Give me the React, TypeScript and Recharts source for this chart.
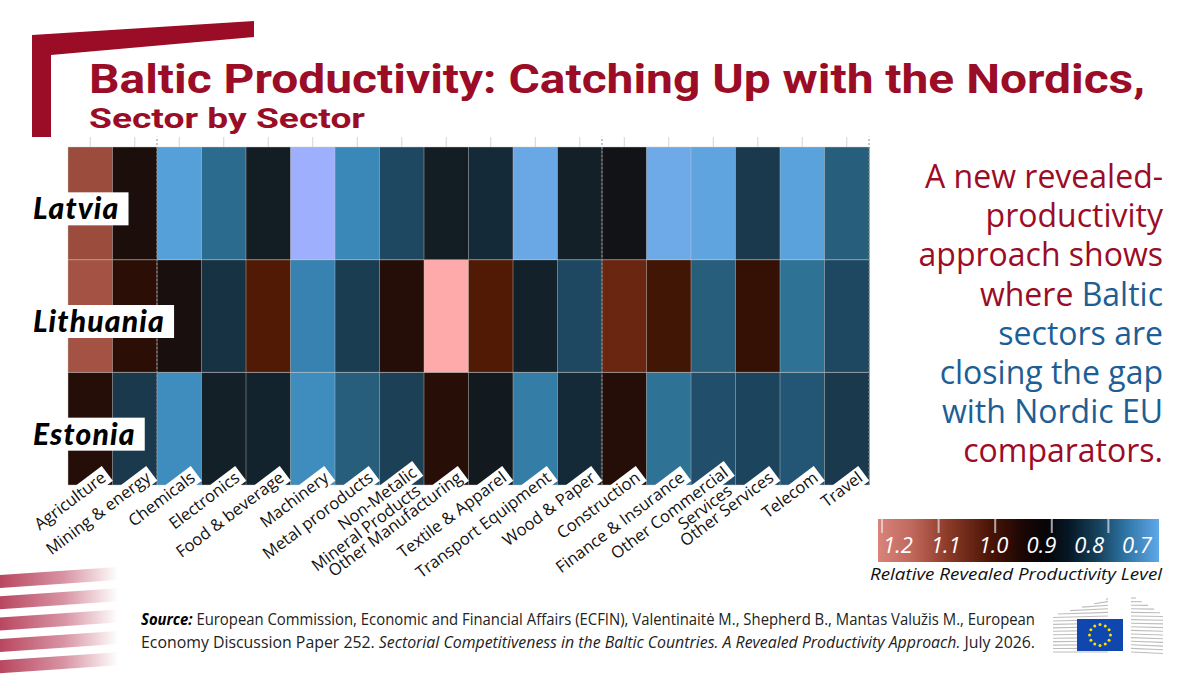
import React from "react";
import { BarChart, Bar, Cell, XAxis, YAxis, ReferenceLine } from "recharts";

// sectors in chart order (typos kept as in the source figure)
const sectors = [
  "Agriculture",
  "Mining & energy",
  "Chemicals",
  "Electronics",
  "Food & beverage",
  "Machinery",
  "Metal proroducts",
  "Non-Metalic\nMineral Products",
  "Other Manufacturing",
  "Textile & Apparel",
  "Transport Equipment",
  "Wood & Paper",
  "Construction",
  "Finance & Insurance",
  "Other Commercial\nServices",
  "Other Services",
  "Telecom",
  "Travel",
];

const countries = ["Latvia", "Lithuania", "Estonia"];

// relative revealed productivity level
const latvia = [1.2, 0.99, 0.7, 0.8, 0.92, 0.56, 0.75, 0.85, 0.92, 0.89, 0.66, 0.91, 0.95, 0.65, 0.68, 0.87, 0.69, 0.82];
const lithuania = [1.21, 1.04, 0.98, 0.88, 1.1, 0.76, 0.865, 1.02, 1.35, 1.1, 0.905, 0.85, 1.15, 1.08, 0.82, 1.06, 0.79, 0.85];
const estonia = [1.02, 0.87, 0.74, 0.91, 0.9, 0.74, 0.82, 0.86, 1.03, 0.93, 0.77, 0.89, 1.02, 0.79, 0.84, 0.855, 0.83, 0.87];

// first sector of each block (primary / manufacturing / services); last entry = right edge
const groupBreaks = [2, 12, 18];

const legendTicks = ["1.2", "1.1", "1.0", "0.9", "0.8", "0.7"];

const values: Record<string, number[]> = { Latvia: latvia, Lithuania: lithuania, Estonia: estonia };

const rows = sectors.map((s) => ({ sector: s, Latvia: 1, Lithuania: 1, Estonia: 1 }));

const RED = "#9b0c27";
const BLUE = "#1d5e95";

// diverging scale: light blue (low) -> black (1) -> pink (high)
const cmap: [number, string][] = [
  [0.55, "#a3b1ff"],
  [0.65, "#6eaae8"],
  [0.7, "#55a0d8"],
  [0.75, "#3a88b8"],
  [0.8, "#2b6c8e"],
  [0.85, "#1e4862"],
  [0.9, "#13232d"],
  [0.95, "#121316"],
  [1.0, "#1d0d08"],
  [1.05, "#2e0f05"],
  [1.1, "#501a05"],
  [1.15, "#6a2610"],
  [1.2, "#9c4c3c"],
  [1.35, "#ffaaaa"],
];

function hex(c: string) {
  return [1, 3, 5].map((i) => parseInt(c.slice(i, i + 2), 16));
}

function colorFor(v: number) {
  if (v <= cmap[0][0]) return cmap[0][1];
  for (let i = 1; i < cmap.length; i++) {
    if (v <= cmap[i][0]) {
      const [v0, c0] = cmap[i - 1];
      const [v1, c1] = cmap[i];
      const t = (v - v0) / (v1 - v0);
      const a = hex(c0);
      const b = hex(c1);
      const m = a.map((x, k) => Math.round(x + (b[k] - x) * t));
      return `rgb(${m[0]},${m[1]},${m[2]})`;
    }
  }
  return cmap[cmap.length - 1][1];
}

let ctx: CanvasRenderingContext2D | null = null;
function textWidth(s: string, font: string) {
  if (!ctx) ctx = document.createElement("canvas").getContext("2d");
  if (!ctx) return s.length * 10;
  ctx.font = font;
  return ctx.measureText(s).width;
}

const LABEL_FONT = "'Open Sans', 'Noto Sans', sans-serif";
const COUNTRY_FONT = "Lato, 'Noto Sans', sans-serif";

function SectorTick(props: any) {
  const { x, y, payload } = props;
  const lines = String(payload.value).split("\n");
  const fs = 16.5;
  const multi = lines.length > 1;
  const w = textWidth(lines[0], `${fs}px ${LABEL_FONT}`);
  // white patch only behind the end of the label, where it meets the heatmap
  const bw = Math.min(w, 38);
  return (
    <g transform={`translate(${x + (multi ? 16 : 17)},${y - (multi ? 10 : 5)}) rotate(-37)`}>
      <rect x={-bw - 4} y={-fs + 2} width={bw + 8} height={fs + 2} fill="#fff" />
      {lines.map((l, i) => (
        <text key={i} x={-7.6 * i} y={16.8 * i} textAnchor="end" fontSize={fs} fontFamily={LABEL_FONT} fill="#111">
          {l}
        </text>
      ))}
    </g>
  );
}

function TopTick(props: any) {
  const { x, y } = props;
  return <line x1={x} x2={x} y1={y} y2={y + 10} stroke="#d4d4d4" strokeWidth={1} />;
}

function CountryTick(props: any) {
  const { x, y, payload } = props;
  const name = [...countries].reverse()[Math.floor(payload.value)];
  const fs = 30;
  const ls = 1.2;
  const w = textWidth(name, `italic 900 ${fs}px ${COUNTRY_FONT}`) + ls * name.length;
  return (
    <g>
      <rect x={x - 40} y={y - 11} width={w + 14} height={33} fill="#fff" />
      <text x={x - 35} y={y + 16} fontSize={fs} fontWeight={900} fontStyle="italic" letterSpacing={ls} fontFamily={COUNTRY_FONT} fill="#000">
        {name}
      </text>
    </g>
  );
}

const rightText: [string, string][][] = [
  [["A new revealed-", RED]],
  [["productivity", RED]],
  [["approach shows", RED]],
  [["where ", RED], ["Baltic", BLUE]],
  [["sectors are", BLUE]],
  [["closing the gap", BLUE]],
  [["with Nordic EU", BLUE]],
  [["comparators.", RED]],
];

function Decorations() {
  return (
    <svg width={1200} height={675} style={{ position: "absolute", left: 0, top: 0 }}>
      <defs>
        <linearGradient id="stripe" x1="0" x2="1" y1="0" y2="0">
          <stop offset="0" stopColor="#b8475f" />
          <stop offset="0.55" stopColor="#d995a5" />
          <stop offset="1" stopColor="#ffffff" />
        </linearGradient>
        <linearGradient id="legend" x1="0" x2="1" y1="0" y2="0">
          <stop offset="0" stopColor="#d9837a" />
          <stop offset="0.12" stopColor="#c0685c" />
          <stop offset="0.25" stopColor="#8c3a28" />
          <stop offset="0.4" stopColor="#4a1406" />
          <stop offset="0.52" stopColor="#1a0604" />
          <stop offset="0.6" stopColor="#050508" />
          <stop offset="0.68" stopColor="#061826" />
          <stop offset="0.78" stopColor="#16405a" />
          <stop offset="0.88" stopColor="#2e74a4" />
          <stop offset="1" stopColor="#5fa8ea" />
        </linearGradient>
      </defs>

      <polygon points="32,35 254,21 254,37 51,55 51,137 32,137" fill={RED} />

      <text x={89} y={93} fontFamily="Roboto, sans-serif" fontWeight={700} fontSize={41} fill={RED} textLength={1056} lengthAdjust="spacingAndGlyphs">
        Baltic Productivity: Catching Up with the Nordics,
      </text>
      <text x={89} y={128} fontFamily="Roboto, sans-serif" fontWeight={700} fontSize={27} fill={RED} textLength={276} lengthAdjust="spacingAndGlyphs">
        Sector by Sector
      </text>

      {rightText.map((line, i) => (
        <text key={i} x={1163} y={188 + i * 39.2} textAnchor="end" fontFamily={LABEL_FONT} fontSize={32}>
          {line.map(([t, c], k) => (
            <tspan key={k} fill={c}>
              {t}
            </tspan>
          ))}
        </text>
      ))}

      <rect x={878} y={519} width={281} height={43} fill="url(#legend)" />
      {legendTicks.slice(0, 5).map((t, i) => (
        <line key={t} x1={882 + i * 56.6} x2={882 + i * 56.6} y1={519} y2={533} stroke="#e6e6e6" strokeOpacity={0.7} strokeWidth={2} />
      ))}
      {legendTicks.map((t, i) => (
        <text key={t} x={898 + i * 47.8} y={553} textAnchor="middle" fontFamily={LABEL_FONT} fontStyle="italic" fontSize={22} fill="#fff">
          {t}
        </text>
      ))}
      <text x={870} y={580} fontFamily={LABEL_FONT} fontStyle="italic" fontSize={17} fill="#111" textLength={292} lengthAdjust="spacingAndGlyphs">
        Relative Revealed Productivity Level
      </text>

      {[0, 1, 2, 3, 4].map((k) => {
        const yt = 575 + k * 21.3;
        return <polygon key={k} points={`0,${yt} 118,${yt - 8} 118,${yt + 5} 0,${yt + 13}`} fill="url(#stripe)" />;
      })}

      <text x={141} y={625} fontFamily={LABEL_FONT} fontSize={15.5} fill="#222" textLength={894} lengthAdjust="spacingAndGlyphs">
        <tspan fontWeight={700} fontStyle="italic" fill="#000">Source:</tspan>
        <tspan> European Commission, Economic and Financial Affairs (ECFIN), Valentinaitė M., Shepherd B., Mantas Valužis M., European</tspan>
      </text>
      <text x={141} y={648} fontFamily={LABEL_FONT} fontSize={15.5} fill="#222" textLength={894} lengthAdjust="spacingAndGlyphs">
        <tspan>Economy Discussion Paper 252. </tspan>
        <tspan fontStyle="italic">Sectorial Competitiveness in the Baltic Countries. A Revealed Productivity Approach.</tspan>
        <tspan> July 2026.</tspan>
      </text>

      {Array.from({ length: 16 }).map((_, k) => {
        const y = 598 + k * 3.6;
        return (
          <g key={k}>
            <line x1={Math.max(1053, 1106 - k * 12)} x2={1108} y1={y + (15 - k) * 0.15} y2={y} stroke="#bdbdbd" strokeWidth={1.1} />
            <line x1={1131} x2={Math.min(1163, 1136 + k * 6)} y1={y} y2={y + k * 0.1} stroke="#bdbdbd" strokeWidth={1.1} />
          </g>
        );
      })}
      <rect x={1077} y={619} width={46} height={32} fill="#0f47af" />
      {Array.from({ length: 12 }).map((_, k) => {
        const a = (k / 12) * Math.PI * 2;
        return <circle key={k} cx={1100 + Math.cos(a) * 10.5} cy={635 + Math.sin(a) * 10.5} r={1.5} fill="#ffdd00" />;
      })}
    </svg>
  );
}

export default function App() {
  return (
    <div style={{ position: "absolute", left: 0, top: 0, width: 1200, height: 675, background: "#fff", overflow: "hidden" }}>
      <Decorations />
      <div style={{ position: "absolute", left: 0, top: 0 }}>
        <BarChart
          width={1200}
          height={675}
          data={rows}
          barCategoryGap={0}
          barGap={0}
          margin={{ top: 136, right: 331, bottom: 0, left: 28 }}
        >
          <XAxis
            xAxisId="cat"
            dataKey="sector"
            type="category"
            height={190}
            interval={0}
            axisLine={false}
            tickLine={false}
            tickSize={0}
            tickMargin={0}
            tick={<SectorTick />}
          />
          <XAxis
            xAxisId="top"
            dataKey="sector"
            type="category"
            orientation="top"
            height={11}
            interval={0}
            tickSize={10}
            tickMargin={0}
            axisLine={false}
            tickLine={false}
            tick={<TopTick />}
          />
          <YAxis
            type="number"
            domain={[0, countries.length]}
            ticks={countries.map((_, i) => i + 0.5)}
            interval={0}
            width={40}
            axisLine={false}
            tickLine={false}
            tickSize={0}
            tickMargin={0}
            tick={<CountryTick />}
          />
          {[...countries].reverse().map((c) => (
            <Bar key={c} dataKey={c} stackId="heat" xAxisId="cat" isAnimationActive={false}>
              {rows.map((r, i) => (
                <Cell key={r.sector} fill={colorFor(values[c][i])} stroke="#c8c8c8" strokeOpacity={0.55} strokeWidth={0.8} />
              ))}
            </Bar>
          ))}
          {groupBreaks.map((b) => {
            const atEnd = b >= sectors.length;
            const s = sectors[atEnd ? sectors.length - 1 : b];
            return (
              <ReferenceLine
                key={b}
                xAxisId="cat"
                position={atEnd ? "end" : "start"}
                segment={[
                  { x: s, y: 0 },
                  { x: s, y: 3.09 },
                ]}
                ifOverflow="visible"
                stroke="#8c8c8c"
                strokeDasharray="2 2"
                strokeWidth={1}
              />
            );
          })}
        </BarChart>
      </div>
    </div>
  );
}
